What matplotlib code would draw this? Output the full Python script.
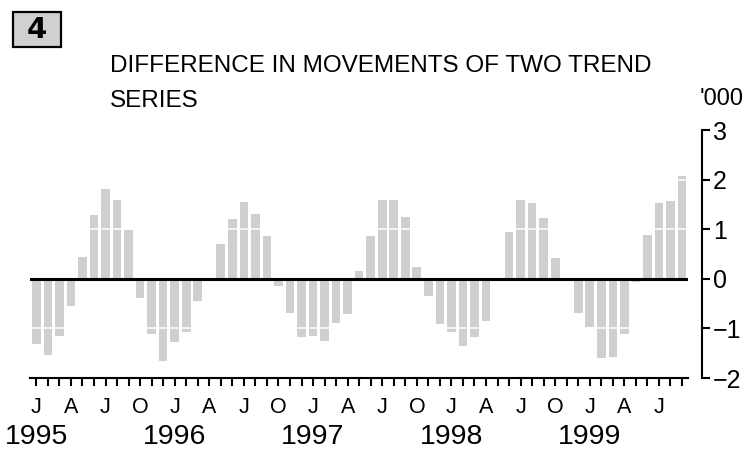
import matplotlib
matplotlib.use("Agg")
import matplotlib.pyplot as plt
from matplotlib import font_manager as fm
from matplotlib.patches import Rectangle
import matplotlib.transforms as mtransforms

# ---- data ('000) monthly Jan 1995 - Sep 1999 ----
values_1995 = [-1.31, -1.54, -1.15, -0.55, 0.44, 1.29, 1.81, 1.59, 0.98, -0.38, -1.11, -1.66]
values_1996 = [-1.27, -1.07, -0.44, -0.04, 0.70, 1.21, 1.55, 1.31, 0.86, -0.14, -0.69, -1.17]
values_1997 = [-1.15, -1.25, -0.89, -0.71, 0.16, 0.86, 1.59, 1.59, 1.25, 0.24, -0.34, -0.91]
values_1998 = [-1.07, -1.35, -1.17, -0.85, 0.02, 0.94, 1.59, 1.53, 1.22, 0.41, -0.02, -0.68]
values_1999 = [-0.98, -1.59, -1.57, -1.12, -0.07, 0.88, 1.53, 1.57, 2.08]
years = ["1995", "1996", "1997", "1998", "1999"]
month_letters = ["J", "F", "M", "A", "M", "J", "J", "A", "S", "O", "N", "D"]
y_ticks = [-2, -1, 0, 1, 2, 3]
y_labels = ["\u22122", "\u22121", "0", "1", "2", "3"]
title_lines = ["DIFFERENCE IN MOVEMENTS OF TWO TREND", "SERIES"]
unit_label = "'000"
chart_number = "4"

values = values_1995 + values_1996 + values_1997 + values_1998 + values_1999
x = list(range(len(values)))

names = {f.name for f in fm.fontManager.ttflist}
narrow = "Liberation Sans Narrow" if "Liberation Sans Narrow" in names else "Liberation Sans"
base = "Liberation Sans"

W, H = 756, 453
fig = plt.figure(figsize=(W / 100, H / 100), dpi=100)
ax = fig.add_axes([30 / W, 1 - 378 / H, 658 / W, 248 / H])

bar_color = "#cfcfcf"
ax.bar(x, values, width=0.75, color=bar_color, zorder=2, linewidth=0)
for g in [-1, 1, 2]:
    ax.axhline(g, color="white", linewidth=1.1, zorder=3)
ax.axhline(0, color="black", linewidth=2.2, zorder=4)

ax.set_xlim(-0.55, 56.52)
ax.set_ylim(-2, 3)

for s in ["top", "left"]:
    ax.spines[s].set_visible(False)
ax.spines["bottom"].set_linewidth(1.5)
ax.spines["right"].set_linewidth(1.5)
ax.spines["right"].set_position(("outward", 10))

ax.yaxis.tick_right()
ax.set_yticks(y_ticks)
ax.set_yticklabels(y_labels, fontfamily=base, fontsize=18)
ax.tick_params(axis="y", direction="out", length=6, width=1.5, pad=2)

ax.set_xticks(x)
xl = []
for i in x:
    m = i % 12
    xl.append(month_letters[m] if m in (0, 3, 6, 9) else "")
ax.set_xticklabels(xl, fontfamily=base, fontsize=15.5)
ax.tick_params(axis="x", direction="out", length=6, width=1.5, pad=8)

trans = mtransforms.blended_transform_factory(ax.transData, fig.transFigure)
for k, yr in enumerate(years):
    ax.text(12 * k, 1 - 437 / H, yr, transform=trans, ha="center", va="center",
            fontfamily=base, fontsize=20.5)

fig.text(110 / W, 1 - 55 / H, title_lines[0], ha="left", va="top",
         fontfamily=narrow, fontsize=17.5)
fig.text(110 / W, 1 - 90 / H, title_lines[1], ha="left", va="top",
         fontfamily=narrow, fontsize=17.5)

fig.text(722 / W, 1 - 99 / H, unit_label, ha="center", va="center", fontfamily=base, fontsize=17)

box = Rectangle((13 / W, 1 - 47 / H), 48 / W, 35 / H, transform=fig.transFigure,
                facecolor="#d0d0d0", edgecolor="black", linewidth=1.6)
fig.patches.append(box)
fig.text(37 / W, 1 - 29.5 / H, chart_number, ha="center", va="center", fontfamily="DejaVu Sans",
         fontweight="bold", fontsize=21)

fig.savefig("out.png", dpi=100)
